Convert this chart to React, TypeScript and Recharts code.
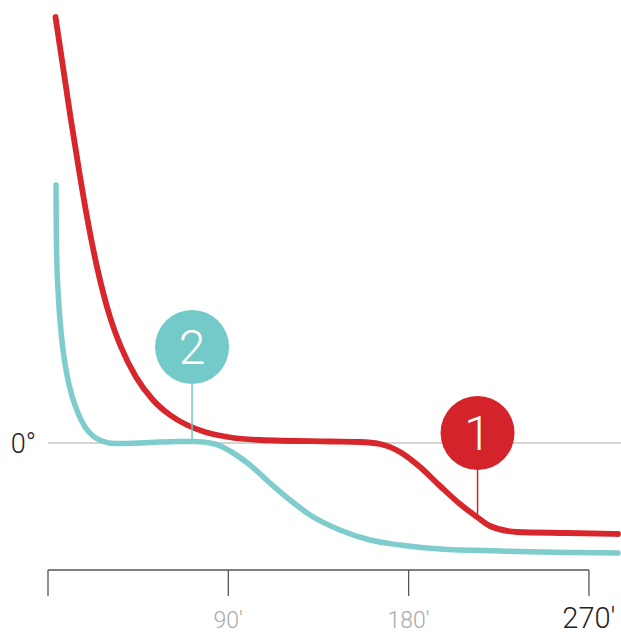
import { LineChart, Line, XAxis, YAxis, ReferenceLine, ReferenceDot, Label } from 'recharts'

// minutes after start, temperature relative to 0°
const redMinutes = [3.74, 7.49, 11.23, 15.22, 19.47, 24.46, 30.95, 36.44, 43.92, 52.41, 60.89, 69.38, 78.36, 89.84, 105.8, 140.75, 155.7, 165.7, 175.7, 185.7, 195.7, 205.6, 214.1, 220.6, 234.1, 259.0, 284.5]
const redTemps = [42.6, 37.6, 32.6, 27.6, 22.6, 17.6, 12.6, 9.6, 6.6, 4.3, 2.8, 1.8, 1.1, 0.6, 0.3, 0.15, 0.1, -0.1, -0.9, -2.4, -4.3, -6.1, -7.4, -8.3, -8.9, -9.0, -9.1]

const tealMinutes = [3.99, 4.14, 4.39, 4.99, 5.99, 7.49, 9.48, 11.98, 14.97, 18.47, 22.46, 26.95, 33.44, 50.9, 65.9, 73.4, 83.4, 90.8, 100.8, 110.8, 120.8, 130.8, 145.7, 160.7, 175.7, 195.7, 225.6, 284.5]
const tealTemps = [25.8, 21.3, 18.3, 15.3, 12.3, 9.3, 6.8, 4.7, 3.0, 1.6, 0.7, 0.2, -0.05, 0.05, 0.15, 0.15, -0.1, -0.8, -2.2, -4.0, -5.7, -7.2, -8.7, -9.7, -10.2, -10.6, -10.8, -11.0]

const xTicks = [0, 90, 180, 270]

// numbered callouts: bubble centre and where the pin touches the curve
const callouts = [
  { id: '1', minute: 214.4, temp: 1.0, pinFrom: -2.6, pinTo: -7.5, color: '#d4232b' },
  { id: '2', minute: 71.9, temp: 9.6, pinFrom: 6.0, pinTo: 0.2, color: '#74c9c9' },
]

const RED = '#d7262c'
const TEAL = '#7ecccc'
const FONT = 'Roboto, sans-serif'

const redData = redMinutes.map((m, i) => ({ m, v: redTemps[i] }))
const tealData = tealMinutes.map((m, i) => ({ m, v: tealTemps[i] }))

function MinuteTick({ x, payload }: any) {
  const v = payload.value
  if (v === 0) return null
  const last = v === 270
  return (
    <text
      x={x}
      y={last ? 628 : 628}
      textAnchor="middle"
      fontFamily={FONT}
      fontWeight={300}
      fontSize={last ? 29 : 23}
      fill={last ? '#222' : '#aaa'}
    >
      {v}′
    </text>
  )
}

export default function App() {
  return (
    <div style={{ position: 'absolute', left: 0, top: 0, width: 621, height: 632, background: '#fff' }}>
      <LineChart width={621} height={632} margin={{ top: 0, right: 0, bottom: 0, left: 48 }}>
        <XAxis
          type="number"
          dataKey="m"
          domain={[0, 286]}
          ticks={xTicks}
          axisLine={false}
          tickSize={26}
          tickLine={{ stroke: '#555', strokeWidth: 1.3 }}
          tick={<MinuteTick />}
          height={62}
        />
        <YAxis type="number" dataKey="v" domain={[-12.7, 44.3]} hide />
        <ReferenceLine
          segment={[{ x: 0, y: -12.7 }, { x: 270, y: -12.7 }]}
          stroke="#555"
          strokeWidth={1.3}
          ifOverflow="visible"
        />
        <ReferenceLine y={0} stroke="#aaa" strokeWidth={1}>
          <Label
            value="0°"
            position="left"
            offset={12}
            fontFamily={FONT}
            fontWeight={300}
            fontSize={27}
            fill="#222"
          />
        </ReferenceLine>
        <Line
          data={tealData}
          dataKey="v"
          type="monotone"
          stroke={TEAL}
          strokeWidth={5.5}
          dot={false}
          strokeLinecap="round"
          isAnimationActive={false}
        />
        <Line
          data={redData}
          dataKey="v"
          type="monotone"
          stroke={RED}
          strokeWidth={5.8}
          dot={false}
          strokeLinecap="round"
          isAnimationActive={false}
        />
        {callouts.map(c => (
          <ReferenceLine
            key={'pin' + c.id}
            segment={[{ x: c.minute, y: c.pinFrom }, { x: c.minute, y: c.pinTo }]}
            stroke={c.color}
            strokeWidth={1.5}
          />
        ))}
        {callouts.map(c => (
          <ReferenceDot key={'dot' + c.id} x={c.minute} y={c.temp} r={37} fill={c.color} stroke="none">
            <Label
              value={c.id}
              position="center"
              fill="#fff"
              fontFamily={FONT}
              fontWeight={300}
              fontSize={48}
            />
          </ReferenceDot>
        ))}
      </LineChart>
    </div>
  )
}
